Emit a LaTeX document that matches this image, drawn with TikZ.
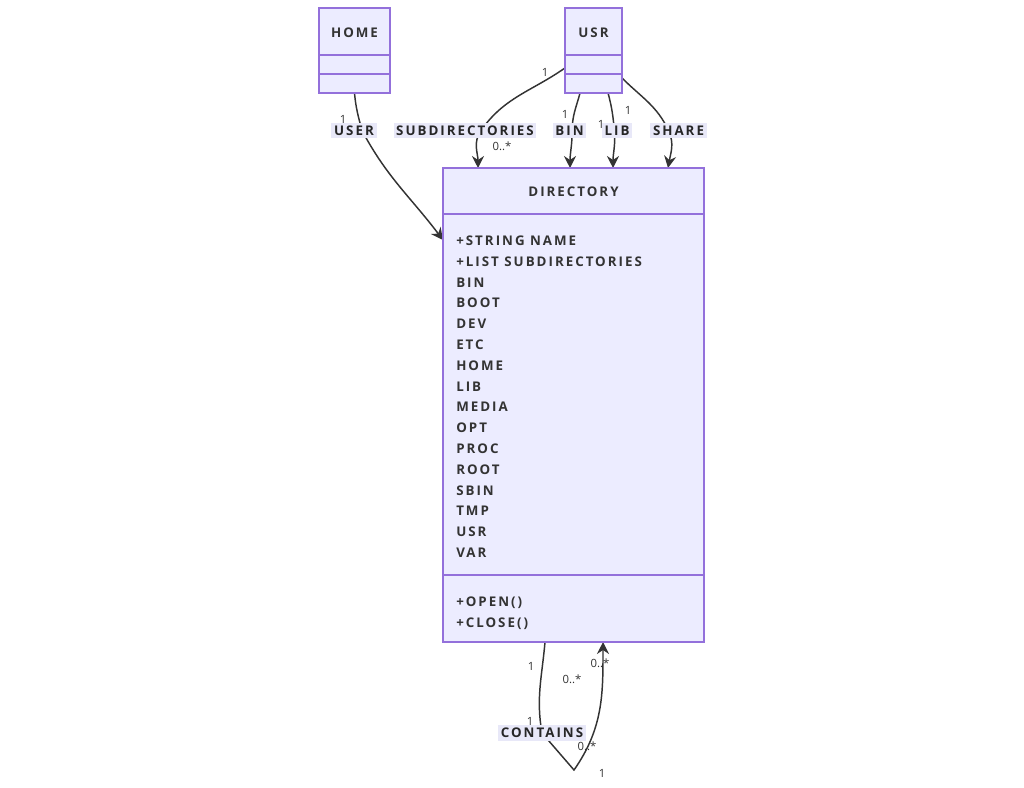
\documentclass[tikz,border=0pt]{standalone}
\usepackage{fontspec}
\usepackage{tikz}
\usetikzlibrary{arrows.meta,positioning,calc,backgrounds}
\newfontfamily\umlfont{Open Sans}[LetterSpace=15]
\newfontfamily\multfont{Open Sans}
\definecolor{umlfill}{HTML}{ECECFF}
\definecolor{umlline}{HTML}{9370DB}
\definecolor{umltext}{HTML}{333333}
\definecolor{lblfill}{HTML}{E8E8F8}

\begin{document}
\begin{tikzpicture}[x=0.75pt,y=-0.75pt]
  \tikzstyle{head}=[draw=umlline, fill=umlfill, line width=1pt, anchor=north west, inner sep=0pt, outer sep=0pt, text height=9pt, font=\umlfont\bfseries\fontsize{10}{12}\selectfont, text=umltext]
  \tikzstyle{part}=[draw=umlline, fill=umlfill, line width=1pt, inner sep=0pt, outer sep=0pt]
  \tikzstyle{member}=[anchor=base west, inner sep=0pt, font=\umlfont\bfseries\fontsize{10}{12}\selectfont, text=umltext]
  \tikzstyle{lbl}=[fill=lblfill, inner sep=2pt, font=\umlfont\bfseries\fontsize{10}{12}\selectfont, text=black!85]
  \tikzstyle{mult}=[inner sep=0pt, font=\multfont\fontsize{8.5}{9}\selectfont, text=umltext]
  \tikzstyle{rel}=[draw=umltext, line width=1.1pt]
  \tikzstyle{arr}=[-{Stealth[length=9pt,width=9pt,inset=3pt]}]

  \useasboundingbox (0,0) rectangle (1024,788);

  % Classes
  \node[head, minimum width=53.25pt, minimum height=35.25pt] (home) at (319,8) {HOME};
  \node[part, minimum width=53.25pt, minimum height=14.25pt, below=0pt of home] (homeattr) {};
  \node[part, minimum width=53.25pt, minimum height=14.25pt, below=0pt of homeattr] (homemeth) {};

  \node[head, minimum width=42.75pt, minimum height=35.25pt] (usr) at (565,8) {USR};
  \node[part, minimum width=42.75pt, minimum height=14.25pt, below=0pt of usr] (usrattr) {};
  \node[part, minimum width=42.75pt, minimum height=14.25pt, below=0pt of usrattr] (usrmeth) {};

  \node[head, minimum width=195.75pt, minimum height=34.5pt] (dir) at (443,168) {DIRECTORY};
  \node[part, minimum width=195.75pt, minimum height=270.75pt, below=0pt of dir] (dirattr) {};
  \node[part, minimum width=195.75pt, minimum height=50.25pt, below=0pt of dirattr] (dirmeth) {};

  \foreach \m [count=\i from 0] in {+STRING NAME, +LIST SUBDIRECTORIES, BIN, BOOT, DEV, ETC, HOME, LIB, MEDIA, OPT, PROC, ROOT, SBIN, TMP, USR, VAR}
    \node[member] (attr\i) at (456,245.5+20.8*\i) {\m};
  \node[member] (open) at (456,606.5) {+OPEN()};
  \node[member] (close) at (456,627.5) {+CLOSE()};

  % Edge labels
  \node[lbl] (luser) at (354,130.5) {USER};
  \node[lbl] (lsub) at (465,130.5) {SUBDIRECTORIES};
  \node[lbl] (lbin) at (569.5,130.5) {BIN};
  \node[lbl] (llib) at (617,130.5) {LIB};
  \node[lbl] (lshare) at (678.5,130.5) {SHARE};
  \node[lbl] (lcont) at (542,733) {CONTAINS};
  \coordinate (loop) at (574,770);

  % Multiplicities
  \node[mult] (m1) at (343,119) {1};
  \node[mult] (m2) at (545,72) {1};
  \node[mult] (m3) at (502,146) {0..*};
  \node[mult] (m4) at (565,114) {1};
  \node[mult] (m5) at (601,124) {1};
  \node[mult] (m6) at (628,110) {1};
  \node[mult] (m7) at (531,666) {1};
  \node[mult] (m8) at (572,679) {0..*};
  \node[mult] (m9) at (530,721) {1};
  \node[mult] (m10) at (587,746) {0..*};
  \node[mult] (m11) at (600,663) {0..*};
  \node[mult] (m12) at (602,773) {1};

  % Relations
  \begin{scope}[on background layer]
    \draw[rel, arr] (homemeth.south) to[out=-85, in=105] ([xshift=6pt]luser.center) to[out=-62, in=127] ([yshift=-19.5pt]dirattr.north west);
    \draw[rel, arr] ([yshift=-2.6pt]usrattr.west) to[out=215, in=55] ([xshift=12pt]lsub.center) to[out=-125, in=90] ([xshift=26.25pt]dir.north west);
    \draw[rel, arr] ([xshift=-10.1pt]usrmeth.south) to[out=-105, in=90] ([xshift=2pt]lbin.center) to[out=-90, in=90] ([xshift=95.25pt]dir.north west);
    \draw[rel, arr] ([xshift=10.9pt]usrmeth.south) to[out=-75, in=95] ([xshift=-2pt]llib.center) to[out=-85, in=90] ([xshift=127.5pt]dir.north west);
    \draw[rel, arr] ([yshift=-3pt]usrmeth.north east) to[out=-45, in=115] ([xshift=-7.5pt]lshare.center) to[out=-65, in=80] ([xshift=168.75pt]dir.north west);
    \draw[rel, arr] ([xshift=76.5pt]dirmeth.south west) to[out=-95, in=100] (lcont.center) -- (loop) to[out=55, in=-90] ([xshift=120pt]dirmeth.south west);
  \end{scope}
\end{tikzpicture}
\end{document}
